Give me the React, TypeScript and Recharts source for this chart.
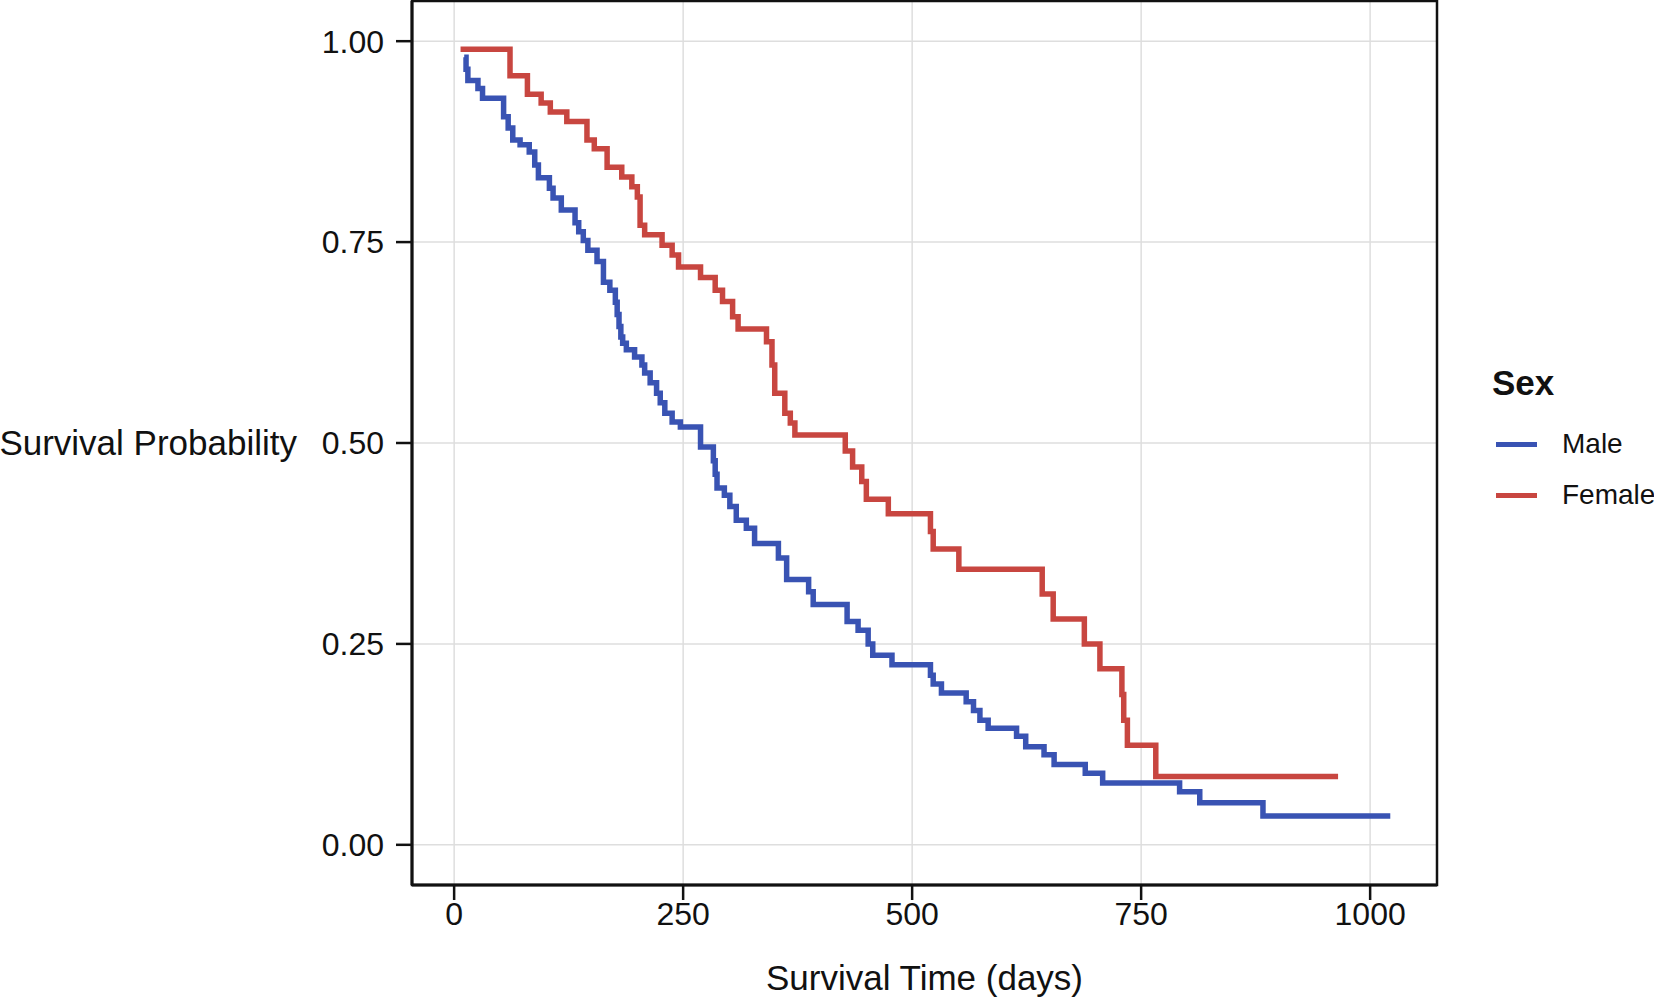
import { LineChart, Line, XAxis, YAxis, CartesianGrid, Legend, ReferenceArea } from "recharts";

const FONT = "'Liberation Sans', Arial, Helvetica, sans-serif";

// Kaplan-Meier steps (time in days, survival after the step)
const maleTime = [
  11, 13, 15, 26, 31, 54, 59, 64, 72, 82, 88, 92, 104, 108, 117, 132, 136, 141, 146, 156,
  163, 170, 176, 178, 180, 182, 184, 188, 197, 205, 208, 214, 221, 225, 230, 238, 247, 269,
  283, 285, 287, 295, 301, 308, 319, 328, 354, 363, 387, 392, 429, 441, 452, 457, 478, 520,
  523, 532, 559, 567, 574, 583, 614, 624, 644, 655, 689, 708, 792, 814, 883, 1022,
];
const maleSurv = [
  0.98, 0.965, 0.951, 0.941, 0.929, 0.906, 0.892, 0.877, 0.871, 0.862, 0.846, 0.83, 0.817, 0.805,
  0.79, 0.774, 0.763, 0.752, 0.74, 0.726, 0.7, 0.69, 0.675, 0.66, 0.645, 0.632, 0.624, 0.616,
  0.607, 0.597, 0.587, 0.575, 0.562, 0.55, 0.537, 0.526, 0.52, 0.495, 0.478, 0.461, 0.444, 0.435,
  0.421, 0.404, 0.394, 0.375, 0.357, 0.33, 0.315, 0.299, 0.278, 0.267, 0.25, 0.236, 0.224, 0.211,
  0.2, 0.189, 0.178, 0.167, 0.155, 0.145, 0.135, 0.122, 0.112, 0.1, 0.089, 0.077, 0.066, 0.0525,
  0.036, 0.036,
];

const femaleTime = [
  7, 61, 80, 95, 105, 123, 145, 153, 167, 183, 194, 200, 203, 208, 227, 238, 245, 269, 285, 293,
  304, 310, 341, 347, 350, 361, 367, 372, 427, 435, 445, 450, 474, 520, 523, 551, 642, 654, 688,
  705, 729, 731, 735, 766, 965,
];
const femaleSurv = [
  0.99, 0.957, 0.934, 0.923, 0.912, 0.9, 0.877, 0.866, 0.843, 0.831, 0.819, 0.806, 0.771, 0.759,
  0.746, 0.734, 0.719, 0.706, 0.69, 0.676, 0.657, 0.642, 0.626, 0.597, 0.562, 0.537, 0.525, 0.51,
  0.49, 0.47, 0.452, 0.43, 0.412, 0.39, 0.368, 0.343, 0.312, 0.281, 0.25, 0.219, 0.187, 0.155,
  0.124, 0.085, 0.085,
];

const xTicks = [0, 250, 500, 750, 1000];
const yTicks = [0, 0.25, 0.5, 0.75, 1];

const X_DOMAIN: [number, number] = [-46, 1073];
const Y_DOMAIN: [number, number] = [-0.05, 1.05];

const toRows = (time: number[], surv: number[]) => time.map((t, i) => ({ t, s: surv[i] }));

const SERIES = [
  { name: "Male", color: "#3953b3", rows: toRows(maleTime, maleSurv) },
  { name: "Female", color: "#c84640", rows: toRows(femaleTime, femaleSurv) },
];
const LEGEND_ORDER = SERIES.map((s) => s.name);

function SexLegend({ payload }: any) {
  // keep the series order (Male, Female) rather than the alphabetical one
  const items = [...(payload ?? [])].sort(
    (a: any, b: any) => LEGEND_ORDER.indexOf(a.value) - LEGEND_ORDER.indexOf(b.value)
  );
  return (
    <div style={{ position: "relative", width: 170, height: 160, fontFamily: FONT, color: "#111" }}>
      <div style={{ position: "absolute", left: 0, top: 0, fontSize: 35, fontWeight: "bold", lineHeight: "40px" }}>
        Sex
      </div>
      {items.map((p: any, i: number) => (
        <div
          key={p.value}
          style={{ position: "absolute", left: 4, top: 66 + i * 51, height: 30, display: "flex", alignItems: "center" }}
        >
          <span style={{ display: "inline-block", width: 41, height: 5, background: p.color }} />
          <span style={{ marginLeft: 25, fontSize: 28, lineHeight: "30px", whiteSpace: "nowrap" }}>{p.value}</span>
        </div>
      ))}
    </div>
  );
}

export default function App() {
  return (
    <div style={{ position: "absolute", left: 0, top: 0, width: 1654, height: 998, background: "#fff" }}>
      <LineChart
        width={1654}
        height={998}
        margin={{ top: 1, right: 217, bottom: 53, left: 292 }}
        style={{ fontFamily: FONT }}
      >
        <CartesianGrid stroke="#dedede" strokeWidth={1.5} />
        <XAxis
          dataKey="t"
          type="number"
          domain={X_DOMAIN}
          allowDataOverflow
          ticks={xTicks}
          height={60}
          tickSize={15}
          tickMargin={2}
          axisLine={{ stroke: "#111", strokeWidth: 3 }}
          tickLine={{ stroke: "#111", strokeWidth: 2.5 }}
          tick={{ fontSize: 32, fill: "#111", fontFamily: FONT }}
          label={{ value: "Survival Time (days)", position: "bottom", offset: 20, fontSize: 35, fill: "#111", fontFamily: FONT }}
        />
        <YAxis
          type="number"
          domain={Y_DOMAIN}
          allowDataOverflow
          ticks={yTicks}
          width={120}
          tickSize={16}
          tickMargin={12}
          tickFormatter={(v: number) => v.toFixed(2)}
          axisLine={{ stroke: "#111", strokeWidth: 3 }}
          tickLine={{ stroke: "#111", strokeWidth: 2.5 }}
          tick={{ fontSize: 32, fill: "#111", fontFamily: FONT }}
          label={{ value: "Survival Probability", position: "left", offset: -5, fontSize: 35, fill: "#111", fontFamily: FONT }}
        />
        <ReferenceArea
          x1={X_DOMAIN[0]}
          x2={X_DOMAIN[1]}
          y1={Y_DOMAIN[0]}
          y2={Y_DOMAIN[1]}
          fill="none"
          fillOpacity={0}
          stroke="#111"
          strokeWidth={2.5}
        />
        {SERIES.map((s) => (
          <Line
            key={s.name}
            name={s.name}
            data={s.rows}
            dataKey="s"
            type="stepAfter"
            stroke={s.color}
            strokeWidth={5.5}
            dot={false}
            activeDot={false}
            isAnimationActive={false}
          />
        ))}
        <Legend
          layout="vertical"
          align="center"
          verticalAlign="middle"
          content={<SexLegend />}
          wrapperStyle={{ left: 1492, top: 363, width: 170 }}
        />
      </LineChart>
    </div>
  );
}
